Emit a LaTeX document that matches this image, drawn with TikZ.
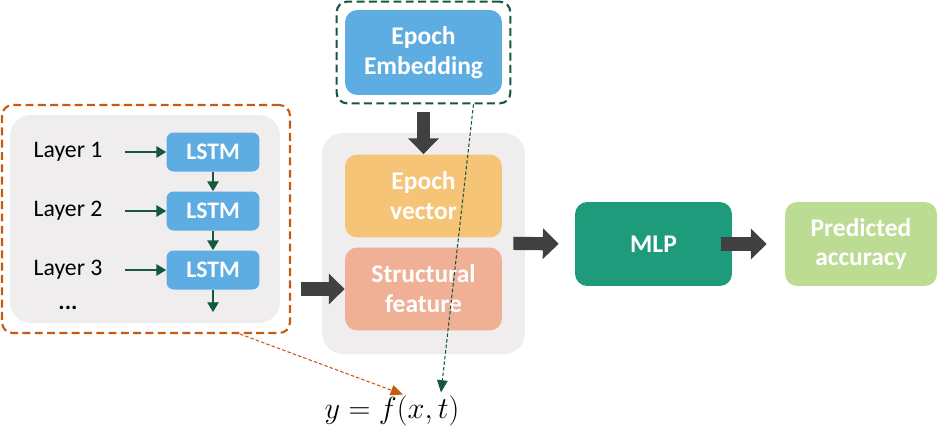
\documentclass[tikz,border=0pt]{standalone}
\usepackage{fontspec}
\setmainfont{Carlito}
\usepackage{xcolor}
\usepackage{tikz}
\usetikzlibrary{arrows.meta, positioning, fit, calc}
\definecolor{panelcolor}{RGB}{239,237,238}
\definecolor{lstmcolor}{RGB}{93,173,226}
\definecolor{vectorcolor}{RGB}{246,196,118}
\definecolor{structcolor}{RGB}{240,176,150}
\definecolor{mlpcolor}{RGB}{30,155,122}
\definecolor{predcolor}{RGB}{188,220,148}
\definecolor{arrowgray}{RGB}{64,64,64}
\definecolor{arrowgreen}{RGB}{22,88,62}
\definecolor{redline}{RGB}{197,90,17}

\begin{document}
\begin{tikzpicture}[
    x=0.02cm, y=-0.02cm,
    panel/.style={fill=panelcolor, rounded corners=12pt, inner sep=0pt},
    block/.style={fill=#1, text=white, rounded corners=7pt, font=\fontsize{14.5}{17}\selectfont\bfseries, align=center, minimum width=3.14cm, minimum height=1.66cm, inner sep=0pt},
    lstmbox/.style={fill=lstmcolor, text=white, rounded corners=4pt, font=\fontsize{13.5}{15}\selectfont\bfseries, minimum width=1.86cm, minimum height=0.78cm, inner sep=0pt},
    layerlabel/.style={font=\fontsize{13.5}{15}\selectfont, inner sep=0pt},
    thinarrow/.style={draw=arrowgreen, line width=0.6pt, -{Triangle[length=5.5pt,width=6.5pt]}},
    bigarrow/.style={draw=arrowgray, line width=7.5pt, -{Triangle[length=9pt,width=17pt]}},
    dashframe/.style={draw=#1, line width=1.2pt, dash pattern=on 4.5pt off 2.5pt, rounded corners=6pt, inner sep=0pt},
    linkarrow/.style={draw=#1, line width=0.6pt, dash pattern=on 2pt off 1.2pt, -{Triangle[length=7pt,width=6pt]}}
]
    \useasboundingbox (0,0) rectangle (942,443);

    % Layer encoder
    \node[panel, minimum width=5.4cm, minimum height=4.16cm] (leftpanel) at (145,219) {};
    \node[dashframe=redline, minimum width=5.76cm, minimum height=4.56cm] (leftframe) at (146,219) {};
    \node[layerlabel] (layer1) at (68,152) {Layer 1};
    \node[layerlabel] (layer2) at (68,211) {Layer 2};
    \node[layerlabel] (layer3) at (68,270) {Layer 3};
    \node[layerlabel, font=\fontsize{13.5}{15}\selectfont\bfseries] (dots) at (68,308) {...};
    \node[lstmbox] (lstm1) at (213,152) {LSTM};
    \node[lstmbox] (lstm2) at (213,211) {LSTM};
    \node[lstmbox] (lstm3) at (213,270) {LSTM};
    \coordinate (lstmout) at (213,312);
    \draw[thinarrow, shorten <=0.45cm] (layer1) -- (lstm1);
    \draw[thinarrow, shorten <=0.45cm] (layer2) -- (lstm2);
    \draw[thinarrow, shorten <=0.45cm] (layer3) -- (lstm3);
    \draw[thinarrow] (lstm1) -- (lstm2);
    \draw[thinarrow] (lstm2) -- (lstm3);
    \draw[thinarrow] (lstm3) -- (lstmout);

    % Epoch embedding and features
    \node[block=lstmcolor, minimum height=1.7cm] (embed) at (423.5,52.5) {Epoch\\Embedding};
    \node[dashframe=arrowgreen, fit=(embed), inner sep=0.16cm] (embedframe) {};
    \node[panel, minimum width=4.06cm, minimum height=4.42cm] (midpanel) at (423.5,243.5) {};
    \node[block=vectorcolor] (vector) at (423.5,196) {Epoch\\vector};
    \node[block=structcolor] (struct) at (423.5,289) {Structural\\feature};

    % Predictor
    \node[block=mlpcolor, minimum height=1.68cm] (mlp) at (653.5,244) {MLP};
    \node[block=predcolor, minimum width=3.04cm, minimum height=1.68cm] (pred) at (861,244) {Predicted\\accuracy};

    \draw[bigarrow, shorten <=0.16cm] (embedframe.south) -- (vector.north);
    \draw[bigarrow, shorten <=0.2cm] (leftframe.east |- struct.west) -- (struct.west);
    \draw[bigarrow, shorten <=-0.24cm, shorten >=0.32cm] (midpanel.east) -- (mlp.west);
    \draw[bigarrow, shorten <=-0.22cm, shorten >=0.36cm] (mlp.east) -- (pred.west);

    % Formula
    \node[font=\fontsize{19}{21}\selectfont, inner sep=0pt] (formula) at (392,411) {$y=f(x,t)$};
    \draw[linkarrow=redline] ([xshift=1.88cm]leftframe.south) -- ([xshift=0.22cm,yshift=0.02cm]formula.north);
    \draw[linkarrow=arrowgreen] ([xshift=1.0cm]embedframe.south) -- ([xshift=0.98cm,yshift=0.06cm]formula.north);
\end{tikzpicture}
\end{document}
